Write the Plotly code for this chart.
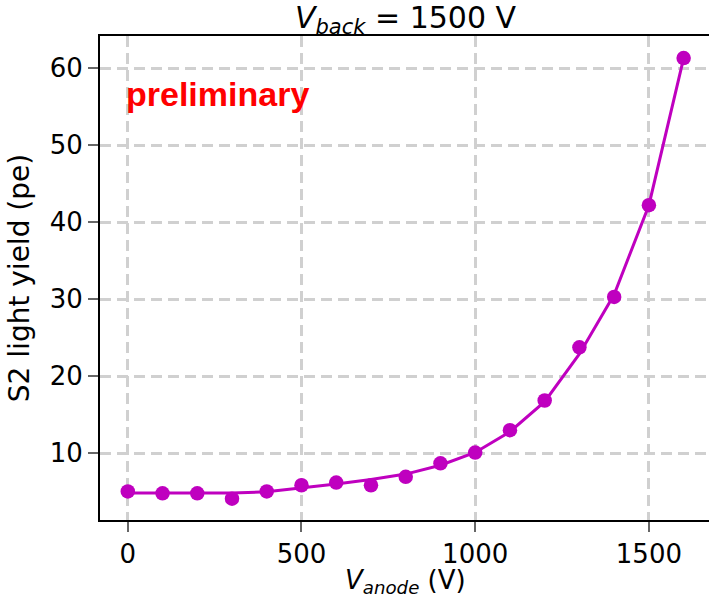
import plotly.graph_objects as go

v_anode = [0, 100, 200, 300, 400, 500, 600, 700, 800, 900, 1000, 1100, 1200, 1300, 1400, 1500, 1600]
s2_yield = [5.05, 4.8, 4.8, 4.1, 5.05, 5.85, 6.2, 5.85, 6.95, 8.7, 10.1, 13.0, 16.85, 23.75, 30.3, 42.2, 61.3]
fit_yield = [4.85, 4.85, 4.85, 4.85, 5.0, 5.5, 6.0, 6.6, 7.3, 8.45, 10.1, 12.8, 16.7, 22.9, 30.6, 42.2, 61.3]

x_ticks = [0, 500, 1000, 1500]
y_ticks = [10, 20, 30, 40, 50, 60]

color = "#bf00bf"
font = "DejaVu Sans"

fig = go.Figure()
fig.add_trace(go.Scatter(x=v_anode, y=fit_yield, mode="lines",
                         line=dict(color=color, width=3), showlegend=False))
fig.add_trace(go.Scatter(x=v_anode, y=s2_yield, mode="markers",
                         marker=dict(color=color, size=14.5), showlegend=False))

axis_common = dict(showgrid=True, gridcolor="#d0d0d0", griddash="11px,6px", gridwidth=2.5,
                   zeroline=False, showline=True, linecolor="black", linewidth=2,
                   ticks="outside", ticklen=10, tickwidth=1.5, tickcolor="#666666",
                   tickfont=dict(family=font, size=26, color="black"))

fig.update_xaxes(range=[-80, 1673], tickvals=x_ticks, mirror=True, **axis_common)
fig.update_yaxes(range=[1.34, 64.16], tickvals=y_ticks,
                 title=dict(text="S2 light yield (pe)",
                            font=dict(family=font, size=28, color="black"), standoff=12),
                 **axis_common)

fig.add_annotation(text="<b>preliminary</b>", xref="paper", yref="paper",
                   x=0.039, y=0.881, xanchor="left", yanchor="middle", showarrow=False,
                   font=dict(family="Liberation Sans", size=34, color="red"))

# title
fig.add_annotation(text="<i>V</i><sub><i>back</i></sub> = 1500 V", xref="paper", yref="paper",
                   x=0.503, y=1.0, yshift=-5, xanchor="center", yanchor="bottom", showarrow=False,
                   font=dict(family=font, size=30, color="black"))
# x axis label
fig.add_annotation(text="<i>V</i><sub><i>anode</i></sub> (V)", xref="paper", yref="paper",
                   x=0.501, y=0.0, yshift=-43, xanchor="center", yanchor="top", showarrow=False,
                   font=dict(family=font, size=26, color="black"))

fig.update_layout(
    width=709, height=597,
    margin=dict(l=100, r=0, t=36, b=77),
    plot_bgcolor="white", paper_bgcolor="white",
)

fig.write_html("out.html")
